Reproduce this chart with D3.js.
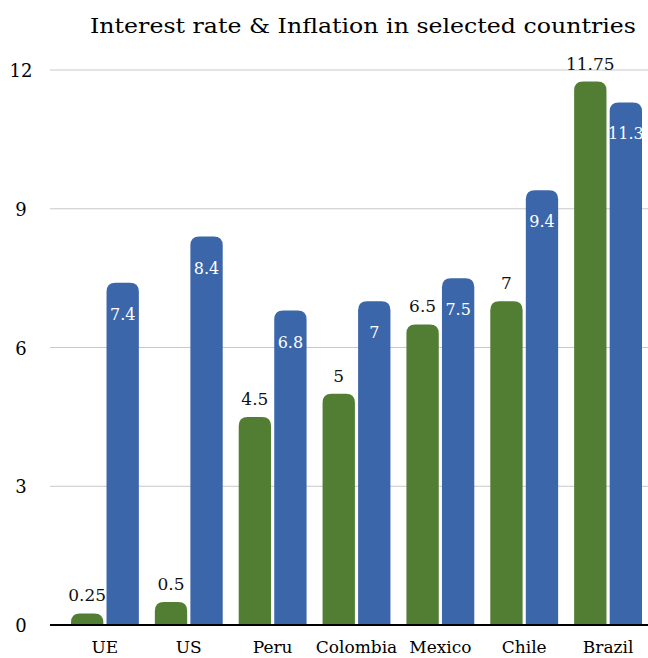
<!DOCTYPE html>
<html>
<head>
<meta charset="utf-8">
<script src="https://cdn.jsdelivr.net/npm/d3@7"></script>
<style>
  body { margin: 0; background: #fff; }
</style>
</head>
<body>
<div id="chart"></div>
<script>
// data
var countries = ["UE", "US", "Peru", "Colombia", "Mexico", "Chile", "Brazil"];
var interestRate = [0.25, 0.5, 4.5, 5, 6.5, 7, 11.75];
var inflation = [7.4, 8.4, 6.8, 7, 7.5, 9.4, 11.3];
var yTicks = [0, 3, 6, 9, 12];

var width = 648, height = 658;
var green = "#527e33", blue = "#3b66aa";
var fontSerif = "'DejaVu Serif', serif";

var svg = d3.select("#chart").append("svg")
    .attr("width", width)
    .attr("height", height)
    .style("font-family", fontSerif);

var y = d3.scaleLinear().domain([0, 12]).range([625, 70]);
var x0 = d3.scaleBand().domain(countries).range([63, 650]).paddingInner(0).paddingOuter(0);
var x1 = d3.scaleBand().domain(["rate", "infl"]).range([8, x0.bandwidth() - 8]).paddingInner(0.09);

// title
svg.append("text")
    .attr("x", 363).attr("y", 33)
    .attr("text-anchor", "middle")
    .attr("font-size", 21)
    .attr("textLength", 546)
    .attr("lengthAdjust", "spacingAndGlyphs")
    .text("Interest rate & Inflation in selected countries");

// grid lines
svg.append("g").selectAll("line")
    .data(yTicks.filter(function(d) { return d > 0; }))
    .enter().append("line")
    .attr("x1", 50).attr("x2", width)
    .attr("y1", function(d) { return y(d); })
    .attr("y2", function(d) { return y(d); })
    .attr("stroke", "#c8c8c8").attr("stroke-width", 1);

// y tick labels
svg.append("g").selectAll("text")
    .data(yTicks)
    .enter().append("text")
    .attr("x", 21).attr("y", function(d) { return y(d) + 7; })
    .attr("text-anchor", "middle")
    .attr("font-size", 18)
    .text(function(d) { return d; });

// rounded-top bar path
function barPath(x, top, w, bottom) {
  var r = Math.min(9, w / 2, (bottom - top));
  return "M" + x + "," + bottom +
    "L" + x + "," + (top + r) +
    "Q" + x + "," + top + " " + (x + r) + "," + top +
    "L" + (x + w - r) + "," + top +
    "Q" + (x + w) + "," + top + " " + (x + w) + "," + (top + r) +
    "L" + (x + w) + "," + bottom + "Z";
}

var groups = svg.append("g").selectAll("g")
    .data(countries)
    .enter().append("g")
    .attr("transform", function(d) { return "translate(" + x0(d) + ",0)"; });

// interest rate bars
groups.append("path")
    .attr("d", function(d, i) { return barPath(x1("rate"), y(interestRate[i]), x1.bandwidth(), y(0)); })
    .attr("fill", green);

// inflation bars
groups.append("path")
    .attr("d", function(d, i) { return barPath(x1("infl"), y(inflation[i]), x1.bandwidth(), y(0)); })
    .attr("fill", blue);

// labels for interest rate (above bar)
groups.append("text")
    .attr("x", x1("rate") + x1.bandwidth() / 2)
    .attr("y", function(d, i) { return y(interestRate[i]) - 12; })
    .attr("text-anchor", "middle")
    .attr("font-size", 17)
    .attr("fill", "#111")
    .text(function(d, i) { return interestRate[i]; });

// labels for inflation (inside bar)
groups.append("text")
    .attr("x", x1("infl") + x1.bandwidth() / 2)
    .attr("y", function(d, i) { return y(inflation[i]) + 37; })
    .attr("text-anchor", "middle")
    .attr("font-size", 16)
    .attr("fill", "#fff")
    .text(function(d, i) { return inflation[i]; });

// zero axis line
svg.append("line")
    .attr("x1", 50).attr("x2", width)
    .attr("y1", y(0)).attr("y2", y(0))
    .attr("stroke", "#000").attr("stroke-width", 2);

// category labels
groups.append("text")
    .attr("x", x0.bandwidth() / 2)
    .attr("y", 653)
    .attr("text-anchor", "middle")
    .attr("font-size", 17)
    .text(function(d) { return d; });
</script>
</body>
</html>
